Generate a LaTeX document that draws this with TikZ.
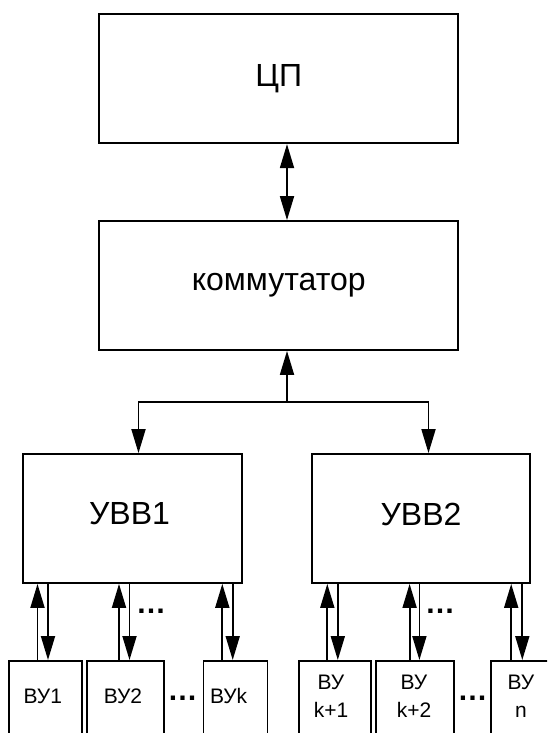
\documentclass[tikz,border=0pt]{standalone}
\usepackage{fontspec}
\setmainfont{Liberation Sans}
\usetikzlibrary{arrows.meta}
\begin{document}
\begin{tikzpicture}[x=1pt,y=-1pt,
  line width=1.8pt,
  tipshape/.tip={Triangle[width=14pt,length=24pt]},
  bigbox/.style={draw,rectangle,inner sep=0pt,font=\fontsize{32}{36}\selectfont},
  smallbox/.style={draw,rectangle,inner sep=0pt},
  smalltxt/.style={inner sep=0pt,align=center,font=\fontsize{21}{28}\selectfont},
  dots/.style={inner sep=0pt,font=\bfseries\fontsize{30}{30}\selectfont},
  link/.style={-tipshape},
  duplex/.style={tipshape-tipshape}]
\clip (0,0) rectangle (547,733);
\fill[white] (0,0) rectangle (547,733);

% upper blocks
\node[bigbox,minimum width=359,minimum height=129] (cp) at (278.7,78.7) {ЦП};
\node[bigbox,minimum width=359,minimum height=129] (komm) at (278.7,285.5) {коммутатор};

% I/O controllers
\node[bigbox,minimum width=219,minimum height=129] (uvv1) at (132.2,518.5) {};
\node[bigbox,minimum width=218,minimum height=129] (uvv2) at (421,518.5) {};
\node[inner sep=0pt,font=\fontsize{32}{36}\selectfont] (uvv1t) at (129.5,514) {УВВ1};
\node[inner sep=0pt,font=\fontsize{32}{36}\selectfont] (uvv2t) at (421,514) {УВВ2};

% external devices (run past the lower edge)
\node[smallbox,minimum width=73,minimum height=120,anchor=north] (vu1) at (45.8,660) {};
\node[smallbox,minimum width=77,minimum height=120,anchor=north] (vu2) at (125.8,660) {};
\node[smallbox,minimum width=64,minimum height=120,anchor=north] (vuk) at (235.5,660) {};
\node[smallbox,minimum width=72,minimum height=120,anchor=north] (vuk1) at (335,660) {};
\node[smallbox,minimum width=78,minimum height=120,anchor=north] (vuk2) at (415.2,660) {};
\node[smallbox,minimum width=80,minimum height=120,anchor=north] (vun) at (531,660) {};

\node[smalltxt] (t1) at (42.8,696) {ВУ1};
\node[smalltxt] (t2) at (123,696) {ВУ2};
\node[smalltxt] (tk) at (228.6,696) {ВУk};
\node[smalltxt] (tk1) at (331,696) {ВУ\\k+1};
\node[smalltxt] (tk2) at (414,696) {ВУ\\k+2};
\node[smalltxt] (tn) at (521,696) {ВУ\\n};

% ellipses between devices
\node[dots] (d1) at (151,611) {…};
\node[dots] (d2) at (440,611) {…};
\node[dots] (d3) at (182.5,698) {…};
\node[dots] (d4) at (472.5,698) {…};

% processor <-> switch
\coordinate (br) at (287,402);
\draw[duplex] (cp.south -| br) -- (komm.north -| br);

% switch <-> controllers
\coordinate (a1) at (138.5,402);
\coordinate (a2) at (428.5,402);
\draw[link] (br) -- (br |- komm.south);
\draw[link] (br) -- (a1) -- (a1 |- uvv1.north);
\draw[link] (br) -- (a2) -- (a2 |- uvv2.north);

% controller <-> device pairs
\foreach \dev/\up/\dn/\ctl in {vu1/37.5/48/uvv1, vu2/119/129.5/uvv1, vuk/222.3/232.7/uvv1,
                                vuk1/327.3/337.8/uvv2, vuk2/409.6/419.4/uvv2, vun/511.2/522.3/uvv2}{
  \coordinate (u-\dev) at (\up,0);
  \coordinate (d-\dev) at (\dn,0);
  \draw[link] (u-\dev |- \dev.north) -- (u-\dev |- \ctl.south);
  \draw[link] (d-\dev |- \ctl.south) -- (d-\dev |- \dev.north);
}
\end{tikzpicture}
\end{document}
